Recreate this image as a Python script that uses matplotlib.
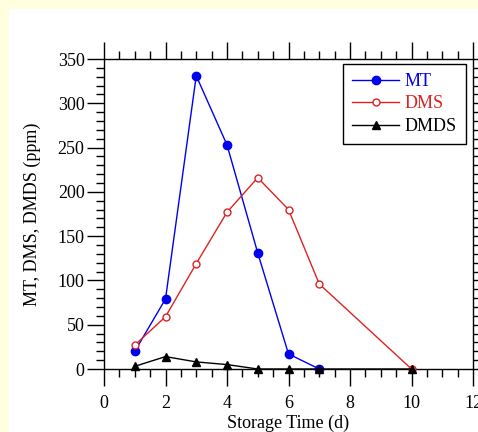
import matplotlib
matplotlib.use('Agg')
import matplotlib.pyplot as plt
from matplotlib.patches import Rectangle
from matplotlib.ticker import MultipleLocator

plt.rcParams['font.family'] = ['Liberation Serif', 'DejaVu Serif']

# Daten
days_mt = [1, 2, 3, 4, 5, 6, 7]
mt = [20, 79, 331, 253, 131, 17, 0]
days_dms = [1, 2, 3, 4, 5, 6, 7, 10]
dms = [27, 59, 119, 177, 216, 180, 96, 0]
days_dmds = [1, 2, 3, 4, 5, 6, 7, 10]
dmds = [3, 14, 8, 5, 0, 0, 0, 0]

fig = plt.figure(figsize=(4.78, 4.32), dpi=100)
fig.patch.set_facecolor('#FFFFE0')
fig.patches.append(Rectangle((9 / 478, 0), 1, 1 - 9 / 432, transform=fig.transFigure,
                             facecolor='white', edgecolor='none', zorder=-10))

ax = fig.add_axes([104 / 478, 1 - 369 / 432, 369 / 478, 310 / 432])
ax.set_facecolor('white')
ax.set_zorder(5)

ax.plot(days_mt, mt, color='#0000ee', lw=1, marker='o', ms=6, label='MT', clip_on=False, zorder=3)
ax.plot(days_dms, dms, color='#dd2222', lw=1, marker='o', ms=5, mfc='white', mew=1,
        label='DMS', clip_on=False, zorder=3)
ax.plot(days_dmds, dmds, color='black', lw=1, marker='^', ms=6, label='DMDS', clip_on=False, zorder=3)

ax.set_xlim(0, 12)
ax.set_ylim(0, 350)
ax.xaxis.set_major_locator(MultipleLocator(2))
ax.xaxis.set_minor_locator(MultipleLocator(0.5))
ax.yaxis.set_major_locator(MultipleLocator(50))
ax.yaxis.set_minor_locator(MultipleLocator(10))
ax.tick_params(which='both', direction='out', top=True, right=True, labelsize=13, width=1)
ax.tick_params(which='major', length=12, pad=2)
ax.tick_params(axis='x', which='major', pad=7)
ax.tick_params(which='minor', length=6)
for s in ax.spines.values():
    s.set_linewidth(1)

ax.set_xlabel('Storage Time (d)', fontsize=13, labelpad=2)
ax.set_ylabel('MT, DMS, DMDS (ppm)', fontsize=13, labelpad=12)

leg = ax.legend(loc='upper right', bbox_to_anchor=(0.981, 0.984), borderaxespad=0,
                fontsize=13, fancybox=False, edgecolor='black', framealpha=1,
                handlelength=2.6, borderpad=0.5, labelspacing=0.3, handletextpad=0.3)
leg.get_frame().set_linewidth(1)
for txt, c in zip(leg.get_texts(), ['#0000ee', '#dd2222', 'black']):
    txt.set_color(c)

fig.savefig('out.png', dpi=100, facecolor=fig.get_facecolor())
